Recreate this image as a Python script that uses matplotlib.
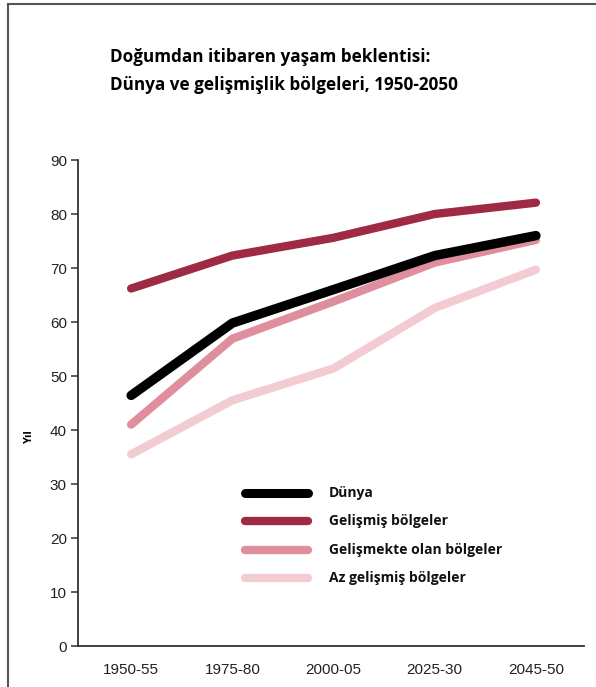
import matplotlib.pyplot as plt
from matplotlib.lines import Line2D

periods = ["1950-55", "1975-80", "2000-05", "2025-30", "2045-50"]
dunya = [46.4, 59.8, 66.0, 72.3, 76.0]
gelismis = [66.2, 72.3, 75.6, 80.0, 82.1]
gelismekte = [41.0, 56.9, 63.8, 71.0, 75.2]
az_gelismis = [35.5, 45.5, 51.4, 62.6, 69.7]

labels = ["Dünya", "Gelişmiş bölgeler", "Gelişmekte olan bölgeler", "Az gelişmiş bölgeler"]
colors = ["#000000", "#9e2a43", "#df8e9e", "#f3cbd3"]
series = [dunya, gelismis, gelismekte, az_gelismis]

W, H = 596, 687
fig = plt.figure(figsize=(W / 100, H / 100), dpi=100)
ax = fig.add_axes([78 / W, 1 - 646 / H, (584 - 78) / W, (646 - 160) / H])

x = range(len(periods))
# draw the lightest series first so darker ones sit on top
for vals, c, lw in reversed(list(zip(series, colors, [6.8, 6.0, 6.0, 6.0]))):
    ax.plot(x, vals, color=c, lw=lw, solid_capstyle="round", solid_joinstyle="round")

ax.set_xlim(-0.525, 4.475)
ax.set_ylim(0, 90)
ax.set_yticks(range(0, 91, 10))
ax.set_xticks(list(x))
ax.set_xticklabels(periods)
for s in ["top", "right"]:
    ax.spines[s].set_visible(False)
for s in ["left", "bottom"]:
    ax.spines[s].set_color("#333333")
    ax.spines[s].set_linewidth(1.3)
ax.tick_params(axis="y", length=5, width=1.1, color="#333333", labelsize=11,
               labelcolor="#222222", pad=3)
ax.tick_params(axis="x", length=0, labelsize=11, labelcolor="#222222", pad=12)
for t in ax.get_xticklabels() + ax.get_yticklabels():
    t.set_family("Liberation Sans")

fig.text(30 / W, 1 - 437 / H, "Yıl", rotation=90, ha="center", va="center",
         fontsize=8, fontweight="bold", family="Open Sans")

# legend drawn by hand: line samples and labels
leg_y = [493, 521, 550, 578]
for yy, lab, c in zip(leg_y, labels, colors):
    fig.add_artist(Line2D([245 / W, 308 / W], [1 - yy / H, 1 - yy / H], color=c,
                          lw=6.5 if c == "#000000" else 6.0, solid_capstyle="round"))
    fig.text(329 / W, 1 - yy / H, lab, ha="left", va="center", fontsize=10,
             fontweight="bold", family="Open Sans", color="#111111")

fig.text(110 / W, 1 - 57 / H, "Doğumdan itibaren yaşam beklentisi:", ha="left",
         va="center", fontsize=12.3, fontweight="bold", family="Open Sans")
fig.text(110 / W, 1 - 85 / H, "Dünya ve gelişmişlik bölgeleri, 1950-2050", ha="left",
         va="center", fontsize=12.3, fontweight="bold", family="Open Sans")

# outer frame: top and left edges
fig.add_artist(Line2D([8 / W, 8 / W], [0, 1 - 4 / H], color="#555555", lw=1.5))
fig.add_artist(Line2D([8 / W, 1], [1 - 4 / H, 1 - 4 / H], color="#555555", lw=1.5))

fig.savefig("out.png", dpi=100)
